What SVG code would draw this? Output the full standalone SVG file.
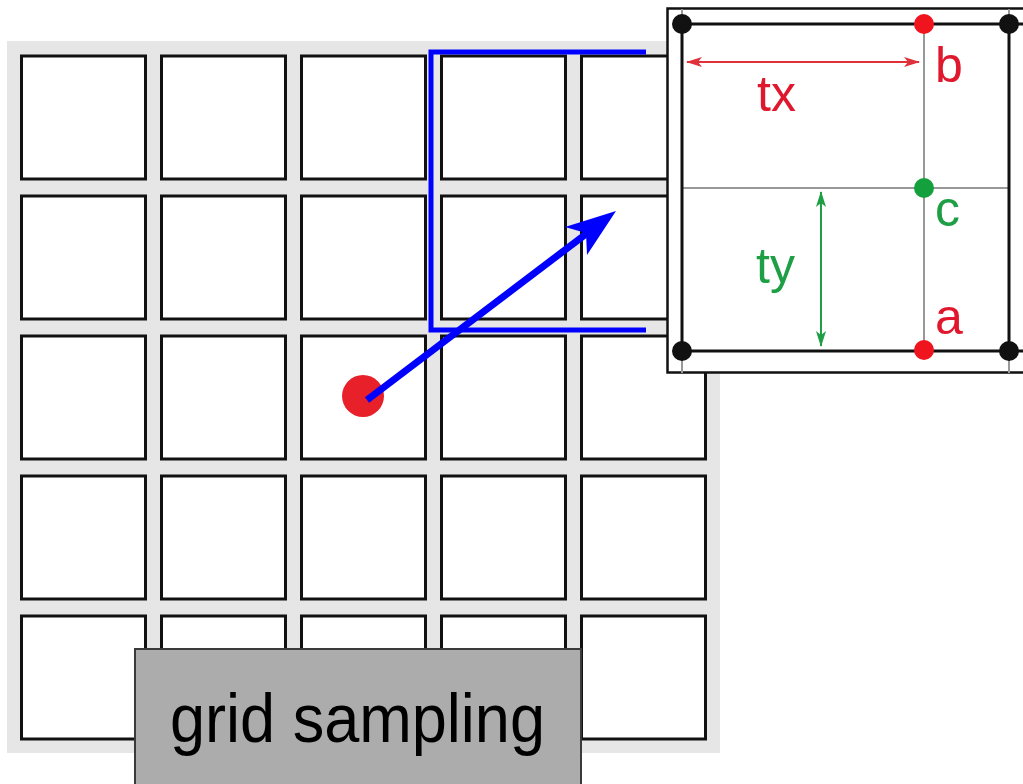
<svg xmlns="http://www.w3.org/2000/svg" width="1023" height="784" viewBox="0 0 1023 784">
<defs>
<style>
.cell{fill:#fff;stroke:#111;stroke-width:3}
.blk{stroke:#111;stroke-width:3;fill:none}
.gry{stroke:#999;stroke-width:2;fill:none}
.lbl{font-family:"Liberation Sans",Arial,sans-serif;font-size:50px}
.red{fill:#e0182d}
.grn{fill:#1e9e45}
</style>
<marker id="ar" viewBox="0 0 16 10" refX="15" refY="5" markerWidth="16" markerHeight="10" markerUnits="userSpaceOnUse" orient="auto-start-reverse">
<path d="M0,0 L16,5 L0,10 L4,5 Z" fill="#e0303c"/>
</marker>
<marker id="ag" viewBox="0 0 16 10" refX="15" refY="5" markerWidth="16" markerHeight="10" markerUnits="userSpaceOnUse" orient="auto-start-reverse">
<path d="M0,0 L16,5 L0,10 L4,5 Z" fill="#1e9e45"/>
</marker>
</defs>
<rect width="1023" height="784" fill="#fff"/>
<g id="grid">
<rect x="7" y="41" width="713" height="712" fill="#e6e6e6"/>
<rect class="cell" x="21.5" y="56" width="124" height="123"/>
<rect class="cell" x="161.5" y="56" width="124" height="123"/>
<rect class="cell" x="301.5" y="56" width="124" height="123"/>
<rect class="cell" x="441.5" y="56" width="124" height="123"/>
<rect class="cell" x="581.5" y="56" width="124" height="123"/>
<rect class="cell" x="21.5" y="196" width="124" height="123"/>
<rect class="cell" x="161.5" y="196" width="124" height="123"/>
<rect class="cell" x="301.5" y="196" width="124" height="123"/>
<rect class="cell" x="441.5" y="196" width="124" height="123"/>
<rect class="cell" x="581.5" y="196" width="124" height="123"/>
<rect class="cell" x="21.5" y="336" width="124" height="123"/>
<rect class="cell" x="161.5" y="336" width="124" height="123"/>
<rect class="cell" x="301.5" y="336" width="124" height="123"/>
<rect class="cell" x="441.5" y="336" width="124" height="123"/>
<rect class="cell" x="581.5" y="336" width="124" height="123"/>
<rect class="cell" x="21.5" y="476" width="124" height="123"/>
<rect class="cell" x="161.5" y="476" width="124" height="123"/>
<rect class="cell" x="301.5" y="476" width="124" height="123"/>
<rect class="cell" x="441.5" y="476" width="124" height="123"/>
<rect class="cell" x="581.5" y="476" width="124" height="123"/>
<rect class="cell" x="21.5" y="616" width="124" height="123"/>
<rect class="cell" x="161.5" y="616" width="124" height="123"/>
<rect class="cell" x="301.5" y="616" width="124" height="123"/>
<rect class="cell" x="441.5" y="616" width="124" height="123"/>
<rect class="cell" x="581.5" y="616" width="124" height="123"/>
</g>
<g id="sample-point">
<circle cx="363" cy="396" r="21" fill="#e8202a"/>
</g>
<g id="connectors">
<path d="M646,52 H431 V330 H646" fill="none" stroke="#0000ff" stroke-width="5"/>
<line x1="367" y1="400" x2="590" y2="231" stroke="#0000ff" stroke-width="7"/>
<path d="M616,211 L565,227 L586,233 L587,255 Z" fill="#0000ff"/>
</g>
<g id="inset">
<rect x="667.5" y="8.5" width="360" height="364" fill="#fff" stroke="#111" stroke-width="2.5"/>
<path class="gry" d="M682,9 V373 M1009,9 V373 M924,24 V351 M682,188 H1009"/>
<path class="blk" d="M682,24 H1023 M682,351 H1023 M682,24 V351 M1009,24 V351"/>
<circle cx="682" cy="24" r="10" fill="#111"/>
<circle cx="1009" cy="24" r="10" fill="#111"/>
<circle cx="682" cy="351" r="10" fill="#111"/>
<circle cx="1009" cy="351" r="10" fill="#111"/>
<circle cx="924" cy="24" r="10" fill="#f0141e"/>
<circle cx="924" cy="350" r="10" fill="#f0141e"/>
<circle cx="924" cy="188" r="10" fill="#14a03c"/>
<line x1="687" y1="62" x2="919" y2="62" stroke="#e0303c" stroke-width="2" marker-start="url(#ar)" marker-end="url(#ar)"/>
<line x1="821" y1="192" x2="821" y2="346" stroke="#1e9e45" stroke-width="2" marker-start="url(#ag)" marker-end="url(#ag)"/>
<text class="lbl red" x="935" y="82">b</text>
<text class="lbl grn" x="935" y="226">c</text>
<text class="lbl red" x="935" y="334">a</text>
<text class="lbl red" x="757" y="111">tx</text>
<text class="lbl grn" x="756" y="283">ty</text>
</g>
<g id="label">
<rect x="135" y="649" width="446" height="140" fill="#acacac" stroke="#3a3a3a" stroke-width="2"/>
<text x="170" y="742" font-family="'Liberation Sans',Arial,sans-serif" font-size="68" fill="#000" textLength="375" lengthAdjust="spacingAndGlyphs">grid sampling</text>
</g>
</svg>
